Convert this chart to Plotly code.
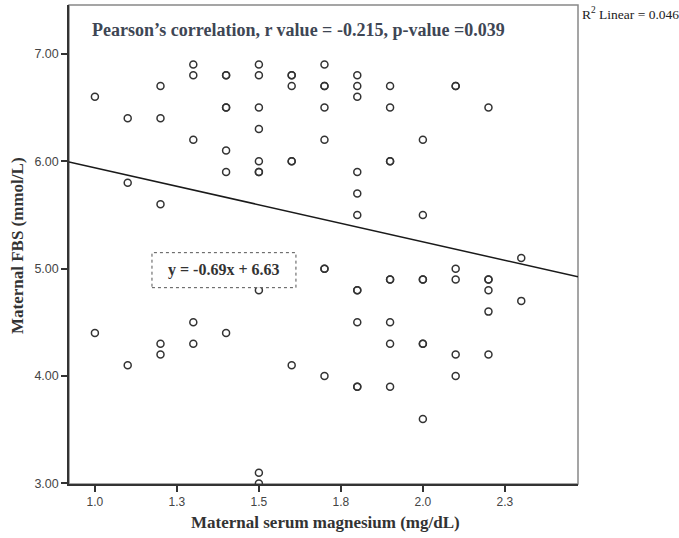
import plotly.graph_objects as go

# ---- data (x = serum Mg mg/dL, y = FBS mmol/L) ----
mg_1_0 = [1.0, 1.0]
fbs_1_0 = [6.6, 4.4]
mg_1_1 = [1.1, 1.1, 1.1]
fbs_1_1 = [6.4, 5.8, 4.1]
mg_1_2 = [1.2] * 5
fbs_1_2 = [6.7, 6.4, 5.6, 4.3, 4.2]
mg_1_3 = [1.3] * 5
fbs_1_3 = [6.9, 6.8, 6.2, 4.5, 4.3]
mg_1_4 = [1.4] * 7
fbs_1_4 = [6.8, 6.8, 6.5, 6.5, 6.1, 5.9, 4.4]
mg_1_5 = [1.5] * 10
fbs_1_5 = [6.9, 6.8, 6.5, 6.3, 6.0, 5.9, 5.9, 4.8, 3.1, 3.0]
mg_1_6 = [1.6] * 7
fbs_1_6 = [6.8, 6.8, 6.7, 6.0, 6.0, 5.0, 4.1]
mg_1_7 = [1.7] * 8
fbs_1_7 = [6.9, 6.7, 6.7, 6.5, 6.2, 5.0, 5.0, 4.0]
mg_1_8 = [1.8] * 11
fbs_1_8 = [6.8, 6.7, 6.6, 5.9, 5.7, 5.5, 4.8, 4.8, 4.5, 3.9, 3.9]
mg_1_9 = [1.9] * 9
fbs_1_9 = [6.7, 6.5, 6.0, 6.0, 4.9, 4.9, 4.5, 4.3, 3.9]
mg_2_0 = [2.0] * 7
fbs_2_0 = [6.2, 5.5, 4.9, 4.9, 4.3, 4.3, 3.6]
mg_2_1 = [2.1] * 6
fbs_2_1 = [6.7, 6.7, 5.0, 4.9, 4.2, 4.0]
mg_2_2 = [2.2] * 6
fbs_2_2 = [6.5, 4.9, 4.9, 4.8, 4.6, 4.2]
mg_2_3 = [2.3, 2.3]
fbs_2_3 = [5.1, 4.7]

magnesium = (mg_1_0 + mg_1_1 + mg_1_2 + mg_1_3 + mg_1_4 + mg_1_5 + mg_1_6 +
             mg_1_7 + mg_1_8 + mg_1_9 + mg_2_0 + mg_2_1 + mg_2_2 + mg_2_3)
fbs = (fbs_1_0 + fbs_1_1 + fbs_1_2 + fbs_1_3 + fbs_1_4 + fbs_1_5 + fbs_1_6 +
       fbs_1_7 + fbs_1_8 + fbs_1_9 + fbs_2_0 + fbs_2_1 + fbs_2_2 + fbs_2_3)

# fitted line reported in the chart
slope = -0.69
intercept = 6.63

x_tick_vals = [1.0, 1.25, 1.5, 1.75, 2.0, 2.25]
x_tick_text = ["1.0", "1.3", "1.5", "1.8", "2.0", "2.3"]
y_tick_vals = [3, 4, 5, 6, 7]
y_tick_text = ["3.00", "4.00", "5.00", "6.00", "7.00"]

x_range = [0.921, 2.473]
y_range = [2.995, 7.455]

line_x = x_range
line_y = [slope * v + intercept for v in line_x]

fig = go.Figure()
fig.add_trace(go.Scatter(
    x=line_x, y=line_y, mode="lines",
    line=dict(color="#1a1a1a", width=1.5), hoverinfo="skip", showlegend=False))
fig.add_trace(go.Scatter(
    x=magnesium, y=fbs, mode="markers",
    marker=dict(symbol="circle-open", size=7, color="#333333",
                line=dict(width=1.5, color="#333333")),
    showlegend=False))

serif = "Liberation Serif, Times New Roman, serif"
sans = "Liberation Sans, Arial, sans-serif"

fig.update_layout(
    width=679, height=538,
    margin=dict(l=69, r=101, t=5, b=54),
    paper_bgcolor="white", plot_bgcolor="white",
    xaxis=dict(range=x_range, tickvals=x_tick_vals, ticktext=x_tick_text,
               ticks="outside", ticklen=6, tickwidth=1.5, tickcolor="#333",
               showline=True, linecolor="#333", linewidth=1.5,
               showgrid=False, zeroline=False,
               tickfont=dict(family=sans, size=12, color="#444")),
    yaxis=dict(range=y_range, tickvals=y_tick_vals, ticktext=y_tick_text,
               ticks="outside", ticklen=6, tickwidth=1.5, tickcolor="#333",
               showline=True, linecolor="#333", linewidth=1.5,
               showgrid=False, zeroline=False,
               tickfont=dict(family=sans, size=12.5, color="#444")),
    shapes=[
        dict(type="rect", xref="paper", yref="paper", x0=0, x1=1, y0=0, y1=1,
             line=dict(color="#888", width=1.5), layer="below"),
        dict(type="rect", xref="x", yref="y", x0=1.174, x1=1.613, y0=4.823, y1=5.149,
             line=dict(color="#555", width=1, dash="dot"), fillcolor="white",
             layer="above"),
    ],
    annotations=[
        dict(text="<b>Pearson’s correlation, r value = -0.215, p-value =0.039</b>",
             xref="paper", yref="paper", x=0.041, y=0.948, xanchor="left", yanchor="middle",
             showarrow=False, font=dict(family=serif, size=18, color="#3e4654")),
        dict(text="<b>y = -0.69x + 6.63</b>", xref="x", yref="y", x=1.394, y=4.99,
             xanchor="center", yanchor="middle", showarrow=False,
             font=dict(family=serif, size=16, color="#333")),
        dict(text="R<sup>2</sup> Linear = 0.046", xref="paper", yref="paper",
             x=1.004, y=0.983, xanchor="left", yanchor="middle", showarrow=False,
             font=dict(family=serif, size=13.5, color="#222")),
        dict(text="<b>Maternal serum magnesium (mg/dL)</b>", xref="paper", yref="paper",
             x=0.503, y=-0.081, xanchor="center", yanchor="middle", showarrow=False,
             font=dict(family=serif, size=17, color="#333")),
        dict(text="<b>Maternal FBS (mmol/L)</b>", xref="paper", yref="paper",
             x=-0.100, y=0.497, xanchor="center", yanchor="middle", textangle=-90,
             showarrow=False, font=dict(family=serif, size=17, color="#333")),
    ],
)

fig.write_html("out.html", config={"displayModeBar": False},
               post_script="document.body.style.margin='0';")
